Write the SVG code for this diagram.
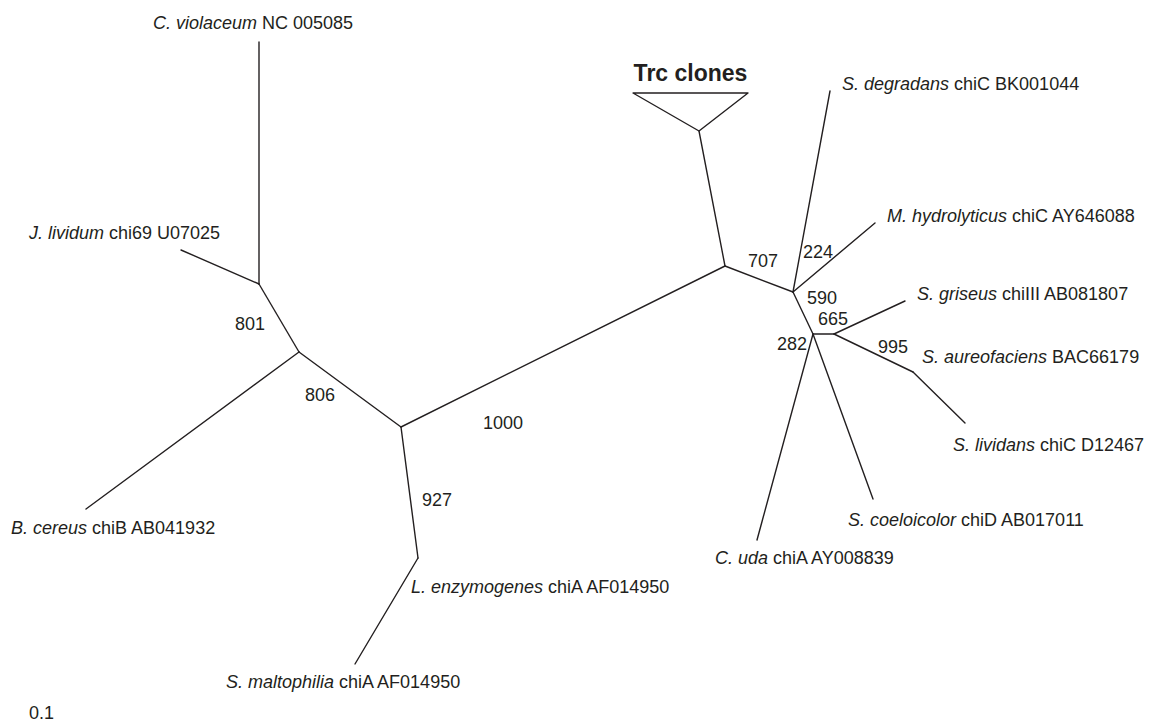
<svg xmlns="http://www.w3.org/2000/svg" width="1152" height="722" viewBox="0 0 1152 722">
<style>
.br{stroke:#231f20;stroke-width:1.4;fill:none;stroke-linecap:round;stroke-linejoin:round}
text{font-family:"Liberation Sans",Arial,sans-serif;font-size:18px;fill:#231f20}
.i{font-style:italic}
.b{font-weight:bold;font-size:23px}
</style>
<rect width="1152" height="722" fill="#ffffff"/>
<g id="connectors">
<line class="br" x1="259" y1="42" x2="259" y2="284"/>
<line class="br" x1="181" y1="250" x2="259" y2="284"/>
<line class="br" x1="259" y1="284" x2="299" y2="352"/>
<line class="br" x1="299" y1="352" x2="86" y2="509"/>
<line class="br" x1="299" y1="352" x2="401" y2="427"/>
<line class="br" x1="401" y1="427" x2="418" y2="558"/>
<line class="br" x1="418" y1="558" x2="355" y2="664"/>
<line class="br" x1="401" y1="427" x2="725" y2="266"/>
<line class="br" x1="725" y1="266" x2="699" y2="131"/>
<line class="br" x1="725" y1="266" x2="793" y2="292"/>
<line class="br" x1="793" y1="292" x2="830" y2="91"/>
<line class="br" x1="793" y1="292" x2="875" y2="223"/>
<line class="br" x1="793" y1="292" x2="813" y2="334"/>
<line class="br" x1="813" y1="334" x2="834" y2="334"/>
<line class="br" x1="834" y1="334" x2="905" y2="301"/>
<line class="br" x1="834" y1="334" x2="913" y2="372"/>
<line class="br" x1="913" y1="372" x2="965" y2="423"/>
<line class="br" x1="813" y1="334" x2="757" y2="540"/>
<line class="br" x1="813" y1="334" x2="873" y2="499"/>
</g>
<g id="trc-clones">
<polygon class="br" points="633,93 748,93 699,131"/>
<text class="b" x="690.5" y="81" text-anchor="middle">Trc clones</text>
</g>
<g id="c-violaceum"><text x="153" y="29"><tspan class="i">C. violaceum</tspan> NC 005085</text></g>
<g id="j-lividum"><text x="29" y="239"><tspan class="i">J. lividum</tspan> chi69 U07025</text></g>
<g id="b-cereus"><text x="11" y="534"><tspan class="i">B. cereus</tspan> chiB AB041932</text></g>
<g id="l-enzymogenes"><text x="411" y="593"><tspan class="i">L. enzymogenes</tspan> chiA AF014950</text></g>
<g id="s-maltophilia"><text x="226" y="688"><tspan class="i">S. maltophilia</tspan> chiA AF014950</text></g>
<g id="s-degradans"><text x="842" y="90"><tspan class="i">S. degradans</tspan> chiC BK001044</text></g>
<g id="m-hydrolyticus"><text x="887" y="222"><tspan class="i">M. hydrolyticus</tspan> chiC AY646088</text></g>
<g id="s-griseus"><text x="917" y="300"><tspan class="i">S. griseus</tspan> chiIII AB081807</text></g>
<g id="s-aureofaciens"><text x="922" y="363"><tspan class="i">S. aureofaciens</tspan> BAC66179</text></g>
<g id="s-lividans"><text x="953" y="451"><tspan class="i">S. lividans</tspan> chiC D12467</text></g>
<g id="s-coeloicolor"><text x="848" y="526"><tspan class="i">S. coeloicolor</tspan> chiD AB017011</text></g>
<g id="c-uda"><text x="715" y="564"><tspan class="i">C. uda</tspan> chiA AY008839</text></g>
<g id="bootstrap">
<text x="235" y="330">801</text>
<text x="305" y="401">806</text>
<text x="422" y="506">927</text>
<text x="483" y="429">1000</text>
<text x="748" y="267">707</text>
<text x="803" y="258">224</text>
<text x="807" y="304">590</text>
<text x="818" y="325">665</text>
<text x="777" y="350">282</text>
<text x="878" y="353">995</text>
</g>
<g id="scale"><text x="29" y="719">0.1</text></g>
</svg>
